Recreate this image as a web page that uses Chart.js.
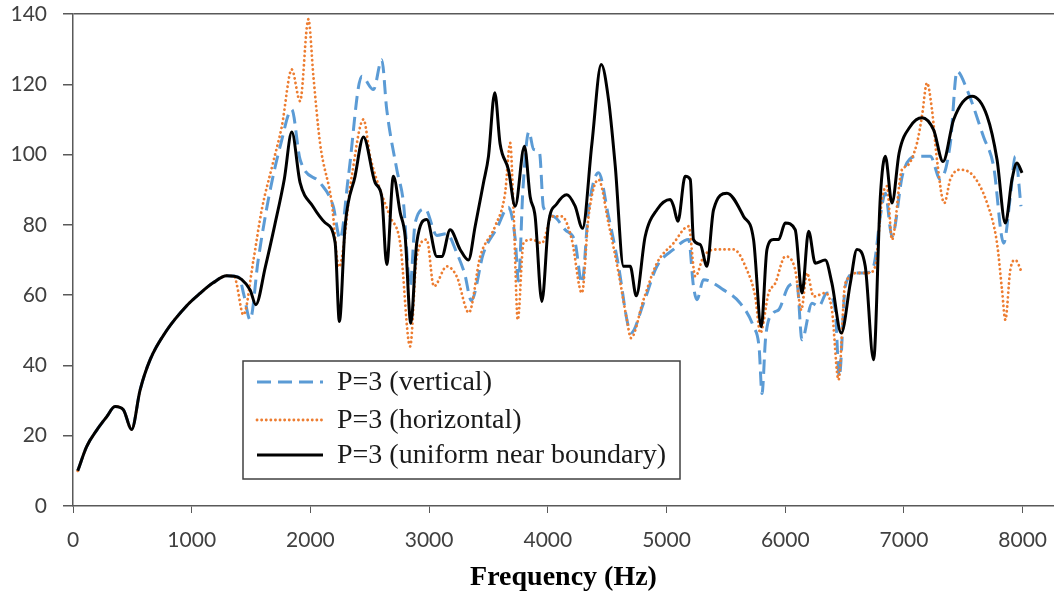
<!DOCTYPE html>
<html>
<head>
<meta charset="utf-8">
<script src="https://cdn.jsdelivr.net/npm/chart.js@4.4.1/dist/chart.umd.min.js"></script>
<style>
  body { margin: 0; background: #fff; }
  #wrap { width: 1054px; height: 596px; }
</style>
</head>
<body>
<div id="wrap"><canvas id="spectrum" width="1054" height="596"></canvas></div>
<script>
// shared low-frequency part (all three curves coincide here)
const lowFreq  = [40, 115, 200, 284, 354, 424, 494, 565, 649, 790, 958, 1070, 1180, 1295, 1360];
const lowLevel = [10, 16.9, 21.6, 25.4, 28.3, 27.4, 21.8, 33, 41.6, 50, 57, 60.5, 63.5, 65.5, 65.4];

const verticalFreq = [1400, 1440, 1492, 1560, 1650, 1750, 1843, 1913, 2081, 2192, 2250, 2320, 2433, 2531, 2601,
  2643, 2728, 2784, 2840, 2882, 2966, 3065, 3149, 3233, 3300, 3355, 3458, 3570, 3668, 3725,
  3753, 3790, 3840, 3880, 3930, 3963, 4048, 4146, 4230, 4287, 4343, 4427, 4511, 4596, 4666,
  4700, 4806, 4919, 5059, 5186, 5227, 5256, 5312, 5480, 5621, 5733, 5780, 5804, 5835, 5902,
  5944, 6028, 6098, 6141, 6225, 6281, 6351, 6421, 6455, 6506, 6590, 6674, 6744, 6801, 6843,
  6899, 6990, 7110, 7222, 7306, 7391, 7447, 7531, 7671, 7755, 7840, 7896, 7938, 7986];
const verticalLevel = [65, 60, 53, 70, 88, 103, 112.8, 98.6, 92, 85.3, 76, 93.8, 122.3, 118.5, 127,
  112.8, 95.7, 86.2, 62.5, 80.5, 84.5, 77, 77.5, 72, 66, 58.5, 72, 79, 85, 76,
  64, 90, 106.5, 101.5, 100.5, 85, 82.4, 78.6, 75, 63.4, 84.3, 94.8, 82.4, 68.2, 53,
  49.2, 57.7, 68.2, 73, 75.8, 62.5, 58.7, 64.4, 61.5, 57.7, 51, 45, 32, 48, 55,
  55.8, 62.5, 63.4, 47.3, 57.7, 56.8, 60.6, 55.8, 36.8, 62.5, 66.3, 66.3, 68.2, 82.4, 89,
  76.7, 94.5, 99.5, 99.5, 93, 103.3, 123.7, 118.5, 105, 96.7, 74.8, 88, 99.5, 85.3];

const horizontalFreq = [1380, 1435, 1520, 1590, 1680, 1759, 1843, 1913, 1983, 2025, 2081, 2180, 2240, 2348, 2447,
  2503, 2587, 2671, 2756, 2840, 2896, 2980, 3040, 3149, 3233, 3335, 3430, 3556, 3640, 3683,
  3711, 3747, 3795, 3865, 3950, 4034, 4118, 4202, 4287, 4343, 4427, 4511, 4596, 4666, 4700,
  4806, 4919, 5059, 5186, 5242, 5312, 5424, 5565, 5677, 5747, 5790, 5860, 5916, 6000, 6084,
  6135, 6183, 6239, 6337, 6393, 6449, 6506, 6618, 6702, 6758, 6815, 6857, 6899, 6983, 7025,
  7110, 7152, 7194, 7236, 7278, 7340, 7391, 7475, 7588, 7700, 7784, 7826, 7854, 7896, 7938, 7995];
const horizontalLevel = [63, 54.4, 70, 84.3, 97, 108, 124.2, 115.2, 138.5, 122.3, 103.3, 86.2, 68, 93.8, 110,
  99.5, 90, 82.4, 74.8, 45.4, 71, 75.8, 62.5, 68.2, 65.3, 55, 71, 79.6, 89, 103.3,
  84.3, 53, 74.8, 75.8, 74.8, 82.4, 82.4, 75.8, 60.6, 82.4, 92.9, 80.5, 66.3, 53, 47.8,
  58.7, 69.1, 74.8, 79.6, 65.3, 71, 73, 73, 67.2, 59.6, 49.2, 60.6, 63.4, 71, 67.2,
  55.8, 66.3, 59.6, 60.6, 55.8, 35.9, 63.4, 66.3, 66.3, 68.2, 87.2, 91, 75.8, 95.7, 96.7,
  103.3, 111, 120.4, 112.8, 98.6, 86.2, 93, 95.7, 93.8, 86.2, 74.8, 61.5, 53, 67.2, 70, 66.3];

const uniformFreq = [1420, 1492, 1540, 1620, 1700, 1780, 1843, 1913, 2020, 2124, 2208, 2244, 2292, 2376, 2447,
  2545, 2601, 2643, 2699, 2756, 2798, 2846, 2896, 2980, 3065, 3107, 3177, 3261, 3331, 3388,
  3458, 3500, 3553, 3598, 3668, 3725, 3803, 3851, 3893, 3950, 4006, 4076, 4160, 4230, 4292,
  4371, 4450, 4511, 4568, 4638, 4694, 4745, 4820, 4919, 5031, 5059, 5096, 5157, 5200, 5227,
  5284, 5340, 5396, 5509, 5649, 5733, 5798, 5846, 5902, 5944, 6000, 6084, 6141, 6197, 6253,
  6337, 6393, 6472, 6548, 6604, 6674, 6744, 6801, 6843, 6899, 6960, 7053, 7152, 7250, 7329,
  7419, 7573, 7700, 7784, 7854, 7910, 7952, 7995];
const uniformLevel = [64.5, 61.5, 57.3, 68, 80, 93, 106.4, 92, 85.3, 80.6, 75, 52.5, 79.6, 93.8, 105,
  92, 88, 68.7, 93.8, 83.5, 76.7, 52, 75, 81.5, 71, 71, 78.6, 73, 70, 79.6,
  92, 99.5, 117.6, 103, 95.7, 85.3, 102.4, 88, 82.4, 58.2, 80.5, 86, 88.6, 85.3, 79,
  103, 125.6, 115.7, 96.7, 68.2, 68.2, 59.8, 76.7, 84.3, 87.2, 85.3, 81, 93.8, 92.9, 75.8,
  74.4, 68.2, 84.3, 89, 82.4, 75.8, 51, 73, 75.8, 75.8, 80.5, 78.6, 60.6, 78.2, 69.1,
  70, 63.4, 49.2, 63.4, 73, 68.2, 41.6, 88, 99.5, 86.2, 100.6, 108, 110.5, 107, 98,
  110, 116.6, 111, 98.6, 80.5, 92.9, 97.6, 94.8];

const seriesNames = ["P=3 (vertical)", "P=3 (horizontal)", "P=3 (uniform near boundary)"];
const xTicks = [0, 1000, 2000, 3000, 4000, 5000, 6000, 7000, 8000];
const yTicks = [0, 20, 40, 60, 80, 100, 120, 140];

function toPoints(freq, level) {
    const f = lowFreq.concat(freq);
    const l = lowLevel.concat(level);
    return f.map((x, i) => ({ x: x, y: l[i] }));
}

// draws the boxed legend inside the plot, like the original figure
const boxLegend = {
    id: "boxLegend",
    afterDraw(chart) {
        const ctx = chart.ctx;
        const left = 243, top = 361, w = 437, h = 118;
        ctx.save();
        ctx.fillStyle = "#fff";
        ctx.fillRect(left, top, w, h);
        ctx.strokeStyle = "#404040";
        ctx.lineWidth = 1.5;
        ctx.strokeRect(left, top, w, h);
        const rows = [382, 420, 455];
        ctx.font = "28px 'Liberation Serif', 'Times New Roman', serif";
        ctx.textBaseline = "middle";
        chart.data.datasets.forEach((ds, i) => {
            const y = rows[i];
            ctx.beginPath();
            ctx.strokeStyle = ds.borderColor;
            ctx.lineWidth = ds.borderWidth;
            ctx.lineCap = ds.borderCapStyle || "butt";
            ctx.setLineDash(ds.borderDash || []);
            ctx.moveTo(257, y);
            ctx.lineTo(323, y);
            ctx.stroke();
            ctx.setLineDash([]);
            ctx.fillStyle = "#1a1a1a";
            ctx.fillText(ds.label, 337, y + 1);
        });
        ctx.restore();
    }
};

const ctx = document.getElementById("spectrum").getContext("2d");
new Chart(ctx, {
    type: "line",
    data: {
        datasets: [
            {
                label: seriesNames[0],
                data: toPoints(verticalFreq, verticalLevel),
                borderColor: "#5B9BD5",
                borderWidth: 3,
                borderDash: [14, 7],
                order: 3
            },
            {
                label: seriesNames[1],
                data: toPoints(horizontalFreq, horizontalLevel),
                borderColor: "#ED7D31",
                borderWidth: 2.8,
                borderDash: [0.1, 4.5],
                borderCapStyle: "round",
                order: 2
            },
            {
                label: seriesNames[2],
                data: toPoints(uniformFreq, uniformLevel),
                borderColor: "#000000",
                borderWidth: 3,
                order: 1
            }
        ]
    },
    options: {
        responsive: false,
        animation: false,
        devicePixelRatio: 1,
        elements: {
            point: { radius: 0 },
            line: { cubicInterpolationMode: "monotone", fill: false }
        },
        layout: { padding: { top: 14, right: 0, left: 0, bottom: 0 } },
        plugins: {
            legend: { display: false },
            tooltip: { enabled: false }
        },
        scales: {
            x: {
                type: "linear",
                min: 0,
                max: 8264,
                afterBuildTicks: scale => { scale.ticks = xTicks.map(v => ({ value: v })); },
                afterFit: scale => {
                    scale.height = 90;
                    scale.paddingLeft = 0;
                    scale.paddingRight = 0;
                    scale.paddingTop = 0;
                    scale.paddingBottom = 0;
                },
                ticks: {
                    font: { family: "Lato", size: 21 },
                    color: "#404040",
                    padding: 15,
                    maxRotation: 0,
                    callback: v => String(v)
                },
                grid: {
                    drawOnChartArea: false,
                    tickLength: 7,
                    tickColor: "#595959"
                },
                border: { color: "#595959", width: 1.5 },
                title: {
                    display: true,
                    text: "Frequency (Hz)",
                    font: { family: "'Liberation Serif', 'Times New Roman', serif", size: 28, weight: "bold" },
                    color: "#000",
                    padding: { top: 0, bottom: 1 }
                }
            },
            y: {
                min: 0,
                max: 140,
                afterBuildTicks: scale => { scale.ticks = yTicks.map(v => ({ value: v })); },
                afterFit: scale => {
                    scale.width = 73;
                    scale.paddingLeft = 0;
                    scale.paddingRight = 0;
                    scale.paddingTop = 0;
                    scale.paddingBottom = 0;
                },
                ticks: {
                    font: { family: "Lato", size: 21 },
                    color: "#404040",
                    padding: 16,
                    callback: v => String(v)
                },
                grid: {
                    color: c => (c.tick && c.tick.value === 140 ? "#595959" : "rgba(0,0,0,0)"),
                    lineWidth: 1.5,
                    tickLength: 10,
                    tickColor: "#595959"
                },
                border: { color: "#595959", width: 1.5 }
            }
        }
    },
    plugins: [boxLegend]
});
</script>
</body>
</html>
